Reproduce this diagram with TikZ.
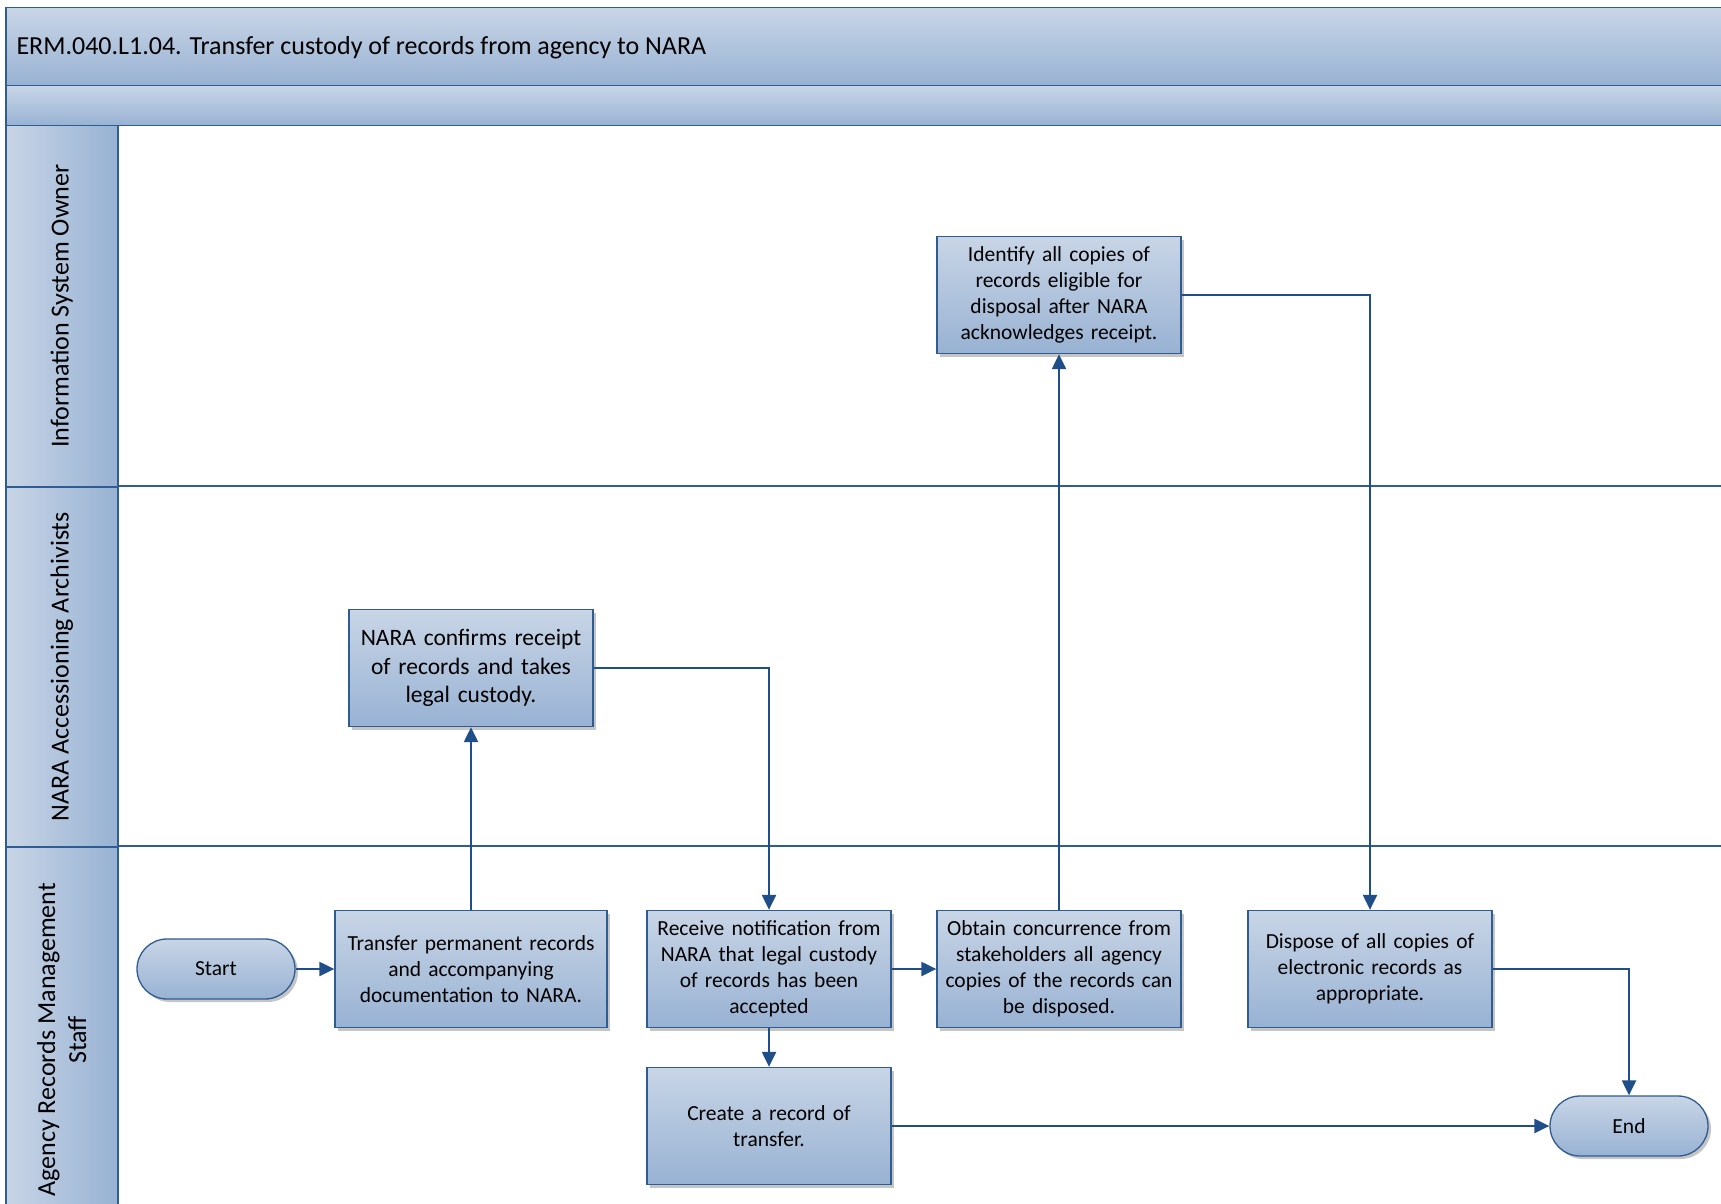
\documentclass[tikz,border=0pt]{standalone}
\usepackage{fontspec}
\setmainfont{Carlito}
\usetikzlibrary{shadows,arrows.meta}
\definecolor{laneblue}{HTML}{2F5C91}
\definecolor{flowblue}{HTML}{1F4E89}
\definecolor{shadetop}{HTML}{C8D5E6}
\definecolor{shadebot}{HTML}{98B2D3}

\begin{document}
\begin{tikzpicture}[x=1pt,y=-1pt,
	taskbox/.style={draw=laneblue,line width=1.3pt,top color=shadetop,bottom color=shadebot,
		minimum width=244pt,minimum height=117pt,text width=240pt,inner sep=2pt,align=center,
		font=\fontsize{21.5}{26}\selectfont,
		drop shadow={shadow xshift=3pt,shadow yshift=-3pt,fill=black!45,opacity=0.5}},
	terminal/.style={taskbox,rounded corners=30pt,minimum width=158pt,minimum height=60pt,text width=150pt},
	flow/.style={draw=flowblue,line width=2.2pt,-{Triangle[length=15pt,width=14pt]}},
	lanehead/.style={draw=laneblue,line width=1.5pt,left color=shadetop,right color=shadebot,
		minimum width=112pt,anchor=north west,inner sep=0pt},
	lanetext/.style={rotate=90,align=center,font=\fontsize{26}{31}\selectfont}]

	\useasboundingbox (0,0) rectangle (1721,1204);

	%pool header
	\node[draw=laneblue,line width=1.5pt,top color=shadetop,bottom color=shadebot,anchor=north west,
		minimum width=1730pt,minimum height=78pt,inner sep=0pt] (titlebar) at (5,7) {};
	\node[anchor=west,font=\fontsize{26}{31}\selectfont] (titletext) at (13,48)
		{ERM.040.L1.04. Transfer custody of records from agency to NARA};
	\node[draw=laneblue,line width=1.5pt,top color=shadetop,bottom color=shadebot,anchor=north west,
		minimum width=1730pt,minimum height=40pt,inner sep=0pt] (subbar) at (5,85) {};

	%lanes
	\node[lanehead,minimum height=361pt] (lane1) at (5,125) {};
	\node[lanehead,minimum height=360pt] (lane2) at (5,486) {};
	\node[lanehead,minimum height=380pt] (lane3) at (5,846) {};
	\node[lanetext] (lane1text) at (lane1.center) {Information System Owner};
	\node[lanetext] (lane2text) at (lane2.center) {NARA Accessioning Archivists};
	\node[lanetext] (lane3text) at ([yshift=-3pt]lane3.center) {Agency Records Management\\Staff};
	\draw[laneblue,line width=1.5pt] (117,486) -- (1725,486); %lane 1/2
	\draw[laneblue,line width=1.5pt] (117,846) -- (1725,846); %lane 2/3

	%steps
	\node[terminal] (start) at (216,969) {Start};
	\node[taskbox,minimum width=272pt,text width=266pt] (transfer) at (471,969)
		{Transfer permanent records\\and accompanying\\documentation to NARA.};
	\node[taskbox,font=\fontsize{23.5}{28.5}\selectfont] (confirm) at (471,668)
		{NARA confirms receipt\\of records and takes\\legal custody.};
	\node[taskbox,minimum width=242pt] (receive) at (769,969)
		{Receive notification from\\NARA that legal custody\\of records has been\\accepted};
	\node[taskbox,minimum width=242pt] (create) at (769,1126)
		{Create a record of\\transfer.};
	\node[taskbox] (obtain) at (1059,969)
		{Obtain concurrence from\\stakeholders all agency\\copies of the records can\\be disposed.};
	\node[taskbox] (identify) at (1059,295)
		{Identify all copies of\\records eligible for\\disposal after NARA\\acknowledges receipt.};
	\node[taskbox] (dispose) at (1370,969)
		{Dispose of all copies of\\electronic records as\\appropriate.};
	\node[terminal] (end) at (1629,1126) {End};

	%arrows
	\draw[flow] (start) -- (transfer);
	\draw[flow] (transfer) -- (confirm);
	\draw[flow] (confirm.east) -| (receive.north);
	\draw[flow] (receive) -- (create);
	\draw[flow] (receive) -- (obtain);
	\draw[flow] (obtain) -- (identify);
	\draw[flow] (identify.east) -| (dispose.north);
	\draw[flow] (dispose.east) -| (end.north);
	\draw[flow] (create) -- (end);
\end{tikzpicture}
\end{document}
